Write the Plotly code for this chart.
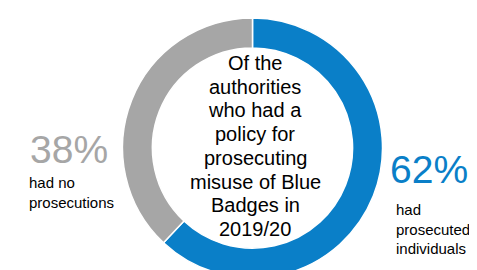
import plotly.graph_objects as go

labels = ["had prosecuted individuals", "had no prosecutions"]
values = [62, 38]
colors = ["#0A7FC8", "#A6A6A6"]
center_lines = ["Of the", "authorities", "who had a", "policy for", "prosecuting",
                "misuse of Blue", "Badges in", "2019/20"]
pct_labels = ["62%", "38%"]
desc_labels = ["had<br>prosecuted<br>individuals", "had no<br>prosecutions"]

W, H = 477, 270
FONT = "Liberation Sans, Arial, sans-serif"

fig = go.Figure(go.Pie(
    labels=labels, values=values, hole=0.77, sort=False, direction="clockwise",
    rotation=0, textinfo="none", hoverinfo="label+percent",
    marker=dict(colors=colors, line=dict(color="white", width=1.5)),
    domain=dict(x=[114 / W, 375 / W], y=[0, 260 / H]),
    showlegend=False,
))

ann = []
# centre text, one annotation per line for tight line spacing
y0, dy = 55, 23.7
for i, line in enumerate(center_lines):
    ann.append(dict(x=247 / W, y=1 - (y0 + i * dy) / H, xref="paper", yref="paper",
                    text=line, showarrow=False, xanchor="center", yanchor="middle",
                    font=dict(family=FONT, size=20, color="#000000")))

# right side: 62%
ann.append(dict(x=380 / W, y=1 - 161 / H, xref="paper", yref="paper", text=pct_labels[0],
                showarrow=False, xanchor="left", yanchor="middle",
                font=dict(family=FONT, size=39, color=colors[0])))
ann.append(dict(x=386 / W, y=1 - 191 / H, xref="paper", yref="paper", text=desc_labels[0],
                showarrow=False, xanchor="left", yanchor="top", align="left",
                font=dict(family=FONT, size=15, color="#000000")))
# left side: 38%
ann.append(dict(x=20 / W, y=1 - 141 / H, xref="paper", yref="paper", text=pct_labels[1],
                showarrow=False, xanchor="left", yanchor="middle",
                font=dict(family=FONT, size=39, color=colors[1])))
ann.append(dict(x=19 / W, y=1 - 164 / H, xref="paper", yref="paper", text=desc_labels[1],
                showarrow=False, xanchor="left", yanchor="top", align="left",
                font=dict(family=FONT, size=15, color="#000000")))

fig.update_layout(
    width=W, height=H, margin=dict(l=0, r=0, t=0, b=0),
    paper_bgcolor="white", plot_bgcolor="white",
    annotations=ann,
)
fig.write_html("out.html")
